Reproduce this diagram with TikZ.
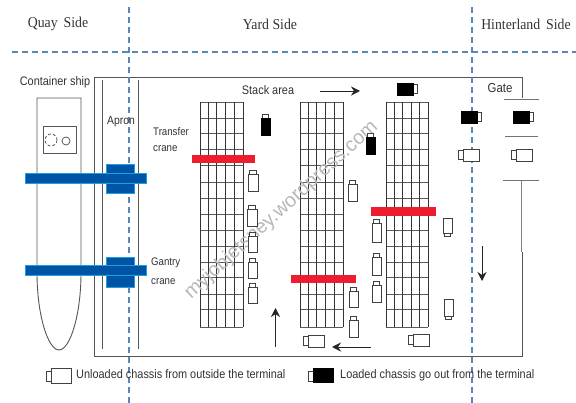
\documentclass[tikz,border=0pt]{standalone}
\usepackage{fontspec}
\setmainfont{Liberation Sans}
\newfontfamily\serifhead[FakeStretch=0.92]{Liberation Serif}
\newfontfamily\narrowf[FakeStretch=0.88]{Liberation Sans}
\usetikzlibrary{arrows.meta}
\definecolor{dashblue}{HTML}{5B86B8}
\definecolor{craneblue}{HTML}{0054A6}
\definecolor{craneedge}{HTML}{1C9FDC}
\definecolor{cranered}{HTML}{ED1C2E}
\definecolor{linegray}{HTML}{555555}
\definecolor{txt}{HTML}{333333}
\tikzset{
  divider/.style={draw=dashblue,line width=1.1pt,dash pattern=on 6pt off 4pt},
  wall/.style={draw=linegray,line width=1pt},
  gridline/.style={draw=black!80,line width=0.9pt},
  bluecrane/.style={fill=craneblue,draw=craneedge,line width=0.8pt},
  redcrane/.style={fill=cranered,draw=none},
  truck/.style={draw=black!75,line width=0.8pt,fill=white},
  loaded/.style={fill=black,draw=black,line width=0.5pt},
  flowarrow/.style={draw=black!85,line width=0.8pt,-{Stealth[length=9pt,width=9pt]}},
  headtext/.style={font=\serifhead\fontsize{15}{16}\selectfont,text=txt,inner sep=0pt},
  labeltext/.style={font=\narrowf\fontsize{12.4}{16}\selectfont,text=txt,inner sep=0pt,align=left},
  smalltext/.style={font=\narrowf\fontsize{11}{16}\selectfont,text=txt,inner sep=0pt,align=left},
  marktext/.style={font=\fontsize{19.8}{22}\selectfont,text=black!28,inner sep=0pt}
}
% cab up / cab down: x left, x right, body top, body bottom, cab edge
\newcommand{\truckup}[5][truck]{\draw[truck] ({#2+1.5},#4) rectangle ({#3-1.5},{#4-3.5});\draw[#1] (#2,#4) rectangle (#3,#5);}
\newcommand{\truckdown}[4]{\draw[truck] ({#1+1.5},#4) rectangle ({#2-1.5},{#4+3.5});\draw[truck] (#1,#3) rectangle (#2,#4);}
% horizontal: body left, body top; cab left or right
\newcommand{\truckleft}[3][truck]{\draw[truck] ({#2-4.5},{#3+1.5}) rectangle (#2,{#3+10.5});\draw[#1] (#2,#3) rectangle ({#2+16},{#3+12});}
\newcommand{\truckright}[2]{\draw[truck] ({#1+16},{#2+1.5}) rectangle ({#1+20.5},{#2+10.5});\draw[loaded] (#1,#2) rectangle ({#1+16},{#2+12});}
\newcommand{\yardgrid}[2]{%
  \foreach \yy in {102,118,133,149,165,182,198,214,230,246,262,277,294,309,327}
    \draw[gridline,draw=black!65] (#1,\yy) -- (#2,\yy);
  \foreach \ff in {0,0.195,0.39,0.6,0.8,1}
    \draw[gridline] ({#1+\ff*(#2-#1)},102) -- ({#1+\ff*(#2-#1)},327);
}
\begin{document}
\begin{tikzpicture}[x=1pt,y=-1pt]
\useasboundingbox (0,0) rectangle (576,403);
\fill[white] (0,0) rectangle (576,403);
% terminal outline
\draw[wall] (522,98) -- (522,78) -- (94,78) -- (94,357) -- (522,357) -- (522,252);
\draw[wall,draw=black!50] (521,252) -- (521,181);
\draw[wall,draw=black!55] (504,100) -- (539,100);
\draw[wall,draw=black!55] (505,137) -- (538,137);
\draw[wall,draw=black!55] (503,181) -- (539,181);
% apron
\draw[wall] (102,80) -- (102,349);
\draw[wall] (138.5,80) -- (138.5,349);
% ship
\draw[wall,line width=0.9pt] (37,273) -- (37,98) -- (81,98) -- (81,273)
  .. controls (81,315) and (70,350) .. (59,350) .. controls (48,350) and (37,315) .. (37,273);
\draw[wall] (43,127) rectangle (76,154);
\draw[black!70,line width=0.7pt,densely dashed] (51,140) circle (6);
\draw[black!70,line width=0.7pt] (66,141) circle (4);
% yard blocks
\yardgrid{200}{243}
\yardgrid{300}{343}
\yardgrid{386}{428}
% watermark
\node[marktext,rotate=42.4] (mark) at (281.5,210) {myjobjetsney.wordpress.com};
% dividers
\draw[divider] (129,7) -- (129,403);
\draw[divider] (472,7) -- (472,403);
\draw[divider] (12,52) -- (576,52);
% gantry cranes
\draw[bluecrane] (106,164) rectangle (134,193);
\draw[bluecrane] (25,173) rectangle (146,183);
\draw[bluecrane] (106,257) rectangle (134,287);
\draw[bluecrane] (25,265) rectangle (146,275);
% transfer cranes
\fill[redcrane] (192,155) rectangle (255,163);
\fill[redcrane] (291,275) rectangle (356,283);
\fill[redcrane] (371,207) rectangle (436,216);
% chassis, unloaded, cab up
\truckup{248}{258}{174}{191}
\truckup{247}{257}{209}{226}
\truckup{248}{257}{236}{252}
\truckup{248}{257}{262}{278}
\truckup{248}{257}{287}{303}
\truckup{348}{357}{184}{201}
\truckup{349}{358}{291}{307}
\truckup{349}{358}{320}{337}
\truckup{372}{381}{223}{242}
\truckup{372}{381}{257}{275}
\truckup{372}{381}{285}{302}
% chassis, loaded, cab up
\truckup[loaded]{261}{270}{118}{135}
\truckup[loaded]{366}{375}{137}{154}
% chassis, unloaded, cab down
\truckdown{443}{452}{218}{233}
\truckdown{444}{453}{299}{316}
% chassis, horizontal
\truckleft{308}{335}
\truckleft{413}{334}
\truckleft{463}{149}
\truckleft{516}{149}
\truckright{397}{83}
\truckright{461}{111}
\truckright{513}{111}
% legend chassis
\draw[truck] (46,371) rectangle (51,381);
\draw[truck] (51,368) rectangle (71,383);
\draw[truck] (308,371) rectangle (313,381);
\draw[loaded] (313,368) rectangle (333,382);
% flow arrows
\coordinate (upA) at (275.5,347); \coordinate (upB) at (275.5,308);
\coordinate (leftA) at (371,347); \coordinate (leftB) at (332,347);
\coordinate (downA) at (482,246); \coordinate (downB) at (482,281);
\coordinate (rightA) at (320,91); \coordinate (rightB) at (360,91);
\draw[flowarrow] (upA) -- (upB);
\draw[flowarrow] (leftA) -- (leftB);
\draw[flowarrow] (downA) -- (downB);
\draw[flowarrow] (rightA) -- (rightB);
% labels
\node[headtext] (quay) at (58,24) {Quay\, Side};
\node[headtext] (yard) at (270,24) {Yard Side};
\node[headtext] (hinter) at (526,24) {Hinterland\, Side};
\node[labeltext] (ship) at (55,82) {Container ship};
\node[labeltext,font=\narrowf\fontsize{11.8}{14}\selectfont] (apron) at (121,122) {Apron};
\node[smalltext,anchor=west] (transfer) at (153,140) {Transfer\\crane};
\node[smalltext,anchor=west,font=\narrowf\fontsize{11}{19}\selectfont] (gantry) at (151,271) {Gantry\\crane};
\node[labeltext] (stack) at (268,90) {Stack area};
\node[labeltext,font=\narrowf\fontsize{13}{14}\selectfont] (gate) at (500,88) {Gate};
\node[labeltext,anchor=west] (leg1) at (76,374) {Unloaded chassis from outside the terminal};
\node[labeltext,anchor=west] (leg2) at (340,375) {Loaded chassis go out from the terminal};
\end{tikzpicture}
\end{document}
